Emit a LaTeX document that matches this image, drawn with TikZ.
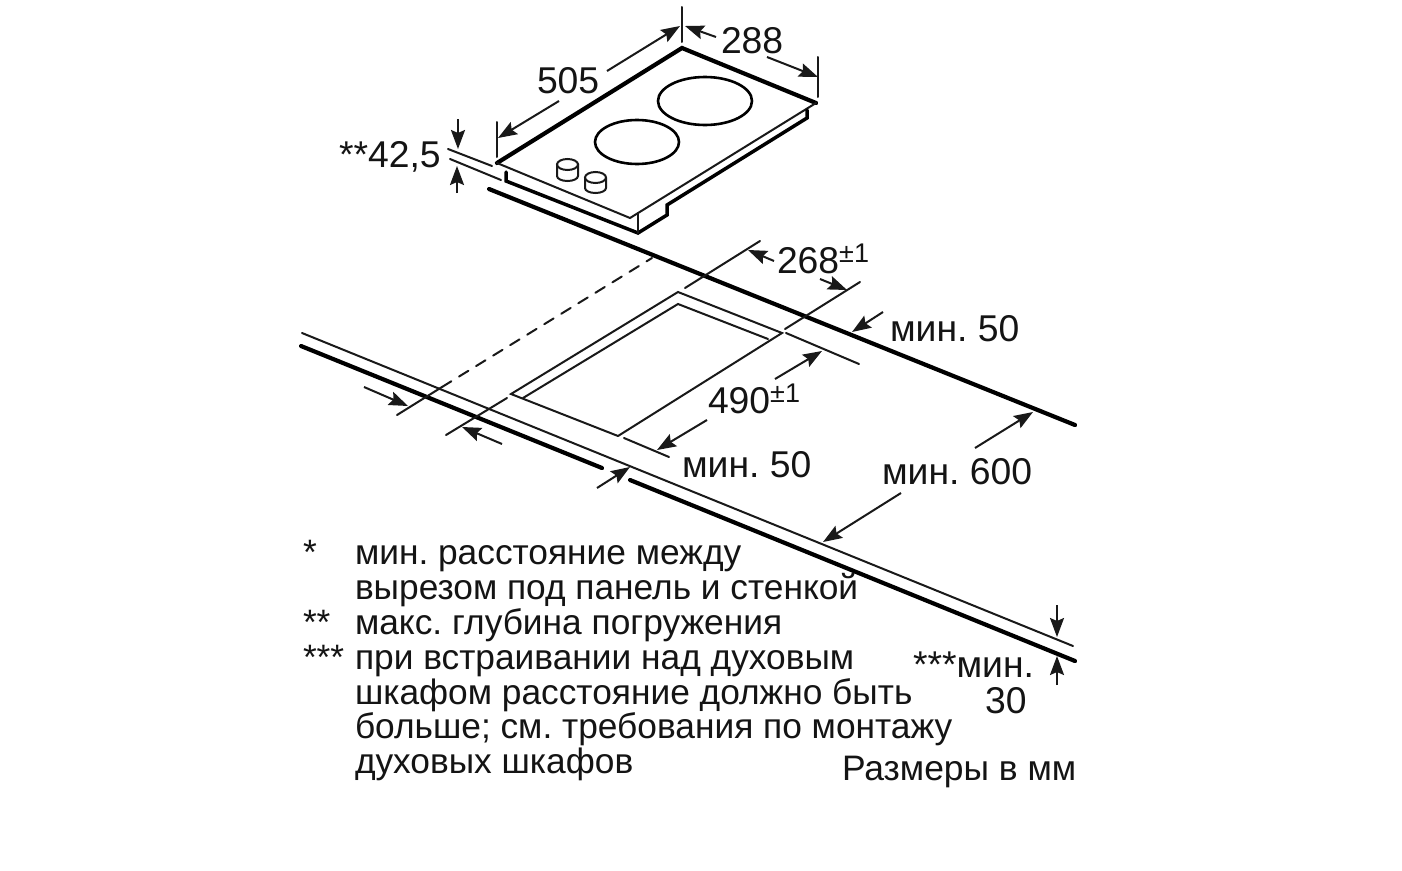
\documentclass[tikz,border=0pt]{standalone}
\usepackage{fontspec}
\setmainfont{Liberation Sans}
\usetikzlibrary{arrows.meta}
\tikzset{
  x=1pt,y=-1pt,
  heavy/.style={line width=4.2pt,line cap=round,line join=miter,black},
  body/.style={line width=3.5pt,line cap=round,line join=miter,black},
  mid/.style={line width=2.6pt,line cap=round,line join=round,black},
  fine/.style={line width=2pt,line cap=round,line join=miter,black!90},
  dim/.style={line width=2pt,black!90,-{Stealth[length=19pt,width=14pt,inset=3pt]}},
  lab/.style={anchor=base west,inner sep=0pt,outer sep=0pt,font=\fontsize{37.3}{36}\selectfont\frenchspacing,text=black!92},
  note/.style={anchor=base west,inner sep=0pt,outer sep=0pt,font=\fontsize{35.3}{35}\selectfont\frenchspacing,text=black!92},
}
\newcommand{\plusm}{\raisebox{11pt}{\fontsize{27}{27}\selectfont ±1}}
\begin{document}
\begin{tikzpicture}
\useasboundingbox (0,0) rectangle (1402,870);
\fill[white] (0,0) rectangle (1402,870);
% hob plate
\draw[heavy] (816,103) -- (682,48) -- (497,163);
\draw[fine] (497,163) -- (630,218) -- (816,103);
\draw[body] (506,172) -- (506,181) -- (638,233) -- (667,215) -- (667,205) -- (807,118) -- (807,110);
\draw[fine] (638,213) -- (638,233);
% burners
\draw[mid] (705,101) ellipse [x radius=47,y radius=24];
\draw[mid] (637,142) ellipse [x radius=42,y radius=22];
% knobs
\draw[fine] (557,164) -- (557,176) arc[start angle=180,end angle=360,x radius=10.5,y radius=-5] -- (578,164);
\draw[fine] (567.5,164.5) ellipse [x radius=10.5,y radius=5.5];
\draw[fine] (585,178) -- (585,188) arc[start angle=180,end angle=360,x radius=10.5,y radius=-5] -- (606,178);
\draw[fine] (595.5,177.5) ellipse [x radius=10.5,y radius=5.5];
% extension lines, hob
\draw[fine] (682,7) -- (682,42);
\draw[fine] (818,57) -- (818,97);
\draw[fine] (497,122) -- (497,157);
\draw[fine] (448,149) -- (492,166);
\draw[fine] (450,159) -- (501,180);
% dimension arrows, hob
\draw[dim] (607,71) -- (680,26);
\draw[dim] (559,101) -- (498,138);
\draw[dim] (716,37) -- (685,26);
\draw[dim] (767,57) -- (818,77);
\draw[dim] (458,119) -- (458,149);
\draw[dim] (457,193) -- (457,166);
% worktop
\draw[heavy] (489,189) -- (1075,425);
\draw[fine] (302,333) -- (1073,646);
\draw[heavy] (301,346) -- (602,468);
\draw[heavy] (630,480) -- (1075,661);
% cutout
\draw[fine] (618,436) -- (511,394) -- (678,292) -- (782,333) -- (618,436);
\draw[fine] (523,398) -- (678,304) -- (768,339);
% extension lines, cutout
\draw[fine] (397,415) -- (442,387);
\draw[fine,dash pattern=on 11pt off 9pt] (442,387) -- (652,258);
\draw[fine] (446,435) -- (507,398);
\draw[fine] (685,288) -- (760,241);
\draw[fine] (785,329) -- (860,282);
\draw[fine] (786,333) -- (859,364);
\draw[fine] (624,438) -- (669,457);
% dimension arrows, cutout
\draw[dim] (774,261) -- (748,250);
\draw[dim] (820,279) -- (847,290);
\draw[dim] (883,312) -- (852,332);
\draw[dim] (775,379) -- (822,351);
\draw[dim] (707,420) -- (657,450);
\draw[dim] (975,448) -- (1033,412);
\draw[dim] (901,493) -- (823,542);
\draw[dim] (597,488) -- (630,467);
\draw[dim] (364,387) -- (408,406);
\draw[dim] (502,444) -- (462,427);
\draw[dim] (1057,605) -- (1057,637);
\draw[dim] (1057,685) -- (1057,656);
% labels
\node[lab] (d505) at (537,93) {505};
\node[lab] (d288) at (721,53) {288};
\node[lab] (d425) at (339,167) {**42,5};
\node[lab] (d268) at (777,273) {268\plusm};
\node[lab] (d490) at (708,413) {490\plusm};
\node[lab] (m50a) at (890,341) {мин. 50};
\node[lab] (m50b) at (682,477) {мин. 50};
\node[lab] (m600) at (882,484) {мин. 600};
\node[lab] (m30a) at (913,677) {***мин.};
\node[lab] (m30b) at (985,713) {30};
\node[lab,font=\fontsize{35.4}{36}\selectfont\frenchspacing] (unit) at (842,780) {Размеры в мм};
% notes
\node[note] (s1) at (303,564) {*};
\node[note] (n1) at (355,564) {мин. расстояние между};
\node[note] (n2) at (355,599) {вырезом под панель и стенкой};
\node[note] (s2) at (303,634) {**};
\node[note] (n3) at (355,634) {макс. глубина погружения};
\node[note] (s3) at (303,669) {***};
\node[note] (n4) at (355,669) {при встраивании над духовым};
\node[note] (n5) at (355,704) {шкафом расстояние должно быть};
\node[note] (n6) at (355,738) {больше; см. требования по монтажу};
\node[note] (n7) at (355,773) {духовых шкафов};
\end{tikzpicture}
\end{document}
